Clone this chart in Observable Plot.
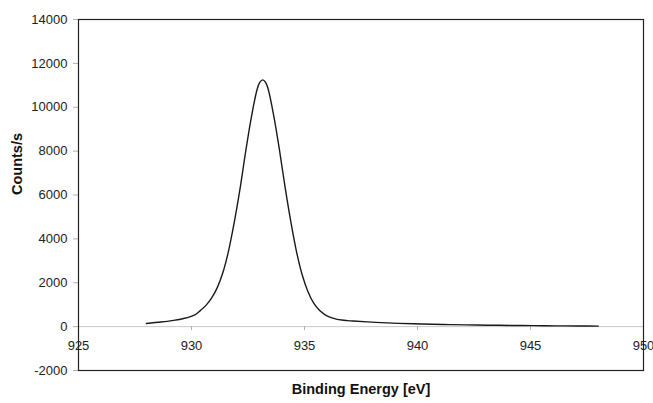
<!DOCTYPE html>
<html>
<head>
<meta charset="utf-8">
<script src="https://cdn.jsdelivr.net/npm/d3@7"></script>
<script src="https://cdn.jsdelivr.net/npm/@observablehq/plot@0.6"></script>
<style>
  html, body { margin: 0; padding: 0; background: #fff; }
</style>
</head>
<body>
<div id="chart"></div>
<script>
const energy = [928.0, 928.65, 929.15, 929.65, 930.15, 930.4, 930.65, 930.9, 931.15, 931.4, 931.65, 931.9, 932.15, 932.4, 932.65, 932.9, 933.02, 933.15, 933.28, 933.4, 933.65, 933.9, 934.15, 934.4, 934.65, 934.9, 935.15, 935.4, 935.65, 935.9, 936.15, 936.4, 936.65, 936.9, 937.15, 938.15, 939.15, 940.15, 941.15, 942.15, 943.15, 944.15, 945.15, 946.15, 947.15, 948.0];
const counts = [145, 210, 275, 370, 540, 740, 980, 1320, 1800, 2500, 3500, 4800, 6300, 8000, 9550, 10800, 11130, 11250, 11130, 10800, 9550, 8000, 6300, 4750, 3400, 2350, 1600, 1080, 760, 550, 420, 345, 300, 275, 255, 195, 150, 120, 97, 80, 66, 54, 44, 36, 29, 23];
const xTicks = [925, 930, 935, 940, 945, 950];
const yTicks = [-2000, 0, 2000, 4000, 6000, 8000, 10000, 12000, 14000];
const xLabel = "Binding Energy [eV]";
const yLabel = "Counts/s";

const data = energy.map((e, i) => ({e, c: counts[i]}));
const font = "'Liberation Sans', Arial, Helvetica, sans-serif";

const chart = Plot.plot({
  width: 653,
  height: 403,
  marginLeft: 78,
  marginRight: 10,
  marginTop: 19,
  marginBottom: 33,
  style: {fontFamily: font, fontSize: "13px", color: "#222", background: "#fff"},
  x: {domain: [925, 950], axis: null},
  y: {domain: [-2000, 14000]},
  marks: [
    Plot.ruleY([0], {stroke: "#c8c8c8", strokeWidth: 1}),
    Plot.ruleX(xTicks, {x: d => d, y1: 0, y2: 0, insetBottom: -4, stroke: "#b0b0b0"}),
    Plot.text(xTicks, {x: d => d, y: 0, dy: 19, text: d => String(d), fontSize: 13, fill: "#222"}),
    Plot.axisY({ticks: yTicks, tickSize: 5, tickPadding: 6, label: null, stroke: "#b0b0b0", fill: "#222", fontSize: 13, tickFormat: d => String(d)}),
    Plot.frame({stroke: "#222", strokeWidth: 1.2}),
    Plot.line(data, {x: "e", y: "c", curve: "catmull-rom", stroke: "#1a1a1a", strokeWidth: 1.4}),
    Plot.text([yLabel], {frameAnchor: "left", dx: -61, rotate: -90, text: d => d, fontWeight: "bold", fontSize: 14.5, fill: "#111"}),
    Plot.text([xLabel], {frameAnchor: "bottom", dy: 23, text: d => d, fontWeight: "bold", fontSize: 14.5, fill: "#111"})
  ]
});
document.getElementById("chart").appendChild(chart);
</script>
</body>
</html>
